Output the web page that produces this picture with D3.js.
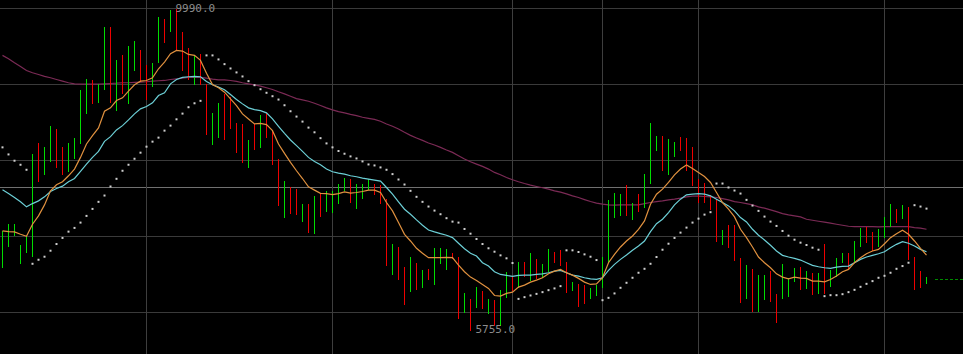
<!DOCTYPE html>
<html>
<head>
<meta charset="utf-8">
<script src="https://cdn.jsdelivr.net/npm/d3@7"></script>
<style>
  html, body { margin: 0; padding: 0; background: #000; }
  svg { display: block; }
</style>
</head>
<body>
<div class="chart"></div>
<script>
// Size of the chart
const WIDTH = 963;
const HEIGHT = 354;

// Bar highs / lows (price), one per session
const highs = [
  7073, 7165, 7165, 6888, 7007, 8089, 8235, 8182, 8459, 8419,
  8182, 8235, 8301, 8934, 9066, 9053, 9013, 9753, 9753, 9317,
  9383, 9502, 9568, 9449, 9251, 9277, 9885, 9858, 9977, 9990,
  9687, 9475, 9370, 9396, 9013, 8631, 8763, 8881, 8829, 8499,
  8485, 8274, 8485, 8604, 8631, 8393, 8023, 7733, 7654, 7627,
  7429, 7429, 7535, 7561, 7601, 7601, 7693, 7773, 7759, 7693,
  7693, 7759, 7693, 7680, 7495, 6901, 6862, 6598, 6730, 6651,
  6558, 6571, 6849, 6849, 6835, 6783, 6730, 6255, 6175, 6334,
  6281, 6175, 6162, 6294, 6532, 6466, 6664, 6664, 6783, 6703,
  6637, 6835, 6796, 6822, 6664, 6400, 6373, 6360, 6321, 6360,
  6730, 7482, 7575, 7561, 7680, 7443, 7561, 7825, 8499, 8327,
  8327, 8287, 8248, 8314, 8301, 8182, 7759, 7707, 7548, 7495,
  7086, 7152, 7152, 6717, 6624, 6571, 6492, 6492, 6545, 6241,
  6637, 6453, 6585, 6598, 6545, 6519, 6519, 6901, 6558, 6717,
  6783, 6783, 6941, 7113, 7126, 7060, 7099, 7258, 7429, 7363,
  7416, 7390, 6730, 6545, 6466
];
const lows = [
  6585, 6862, 7007, 6637, 6783, 6730, 7720, 7812, 7984, 7905,
  7812, 7852, 8023, 8221, 8617, 8749, 8763, 8934, 8763, 8657,
  8881, 8749, 9172, 9027, 8802, 8961, 9277, 9541, 9687, 9449,
  9172, 9053, 8987, 9000, 8340, 8208, 8301, 8274, 8419, 8103,
  7971, 7905, 8142, 8169, 8301, 7944, 7403, 7245, 7297, 7284,
  7192, 7047, 7033, 7258, 7324, 7311, 7429, 7601, 7443, 7363,
  7495, 7614, 7548, 7429, 6611, 6492, 6426, 6096, 6268, 6294,
  6321, 6426, 6360, 6637, 6558, 6703, 5911, 5991, 5755, 6057,
  6043, 5977, 5819, 5819, 6189, 6281, 6321, 6466, 6413, 6439,
  6453, 6532, 6651, 6611, 6255, 6281, 6070, 6109, 6175, 6215,
  6321, 6651, 7245, 7271, 7271, 7218, 7324, 7377, 7693, 8129,
  7865, 7812, 8050, 8129, 7865, 7667, 7443, 7443, 7350, 6928,
  6888, 6849, 6677, 6123, 6175, 6004, 6004, 6162, 6136, 5859,
  6175, 6202, 6400, 6294, 6307, 6228, 6241, 6241, 6334, 6466,
  6651, 6558, 6651, 6862, 6915, 6809, 6862, 6981, 7126, 7179,
  7231, 6690, 6294, 6321, 6373
];
// 1 = up bar (green), 0 = down bar (red)
const upBar = [
  1,1,1,1,1,1,0,1,1,0, 0,1,1,1,1,0,1,1,0,1,
  0,1,1,0,0,1,1,0,1,0, 0,0,1,0,0,1,1,0,0,0,
  0,1,0,1,0,0,0,1,0,0, 1,0,1,0,1,1,1,1,0,1,
  1,1,0,0,0,1,0,0,1,0, 1,0,1,1,1,0,0,1,0,1,
  0,1,0,1,1,0,1,0,1,0, 1,1,0,0,0,1,0,0,1,1,
  1,1,1,1,0,1,0,1,1,1, 0,1,1,0,0,0,0,0,0,0,
  1,0,0,0,1,0,1,1,0,0, 1,1,1,0,1,0,1,0,1,1,
  1,0,1,1,0,0,1,1,1,0, 1,0,0,0,1
];
// Parabolic SAR dots
const sar = [
  8173, 8080, 7997, 7944, 7878, 6641, 6694, 6734, 6813, 6901,
  6981, 7064, 7113, 7183, 7271, 7363, 7456, 7539, 7658, 7759,
  7865, 7944, 8023, 8103, 8182, 8248, 8301, 8393, 8459, 8542,
  8617, 8701, 8753, 8785, 9383, 9383, 9330, 9268, 9211, 9159,
  9106, 9044, 8991, 8938, 8891, 8846, 8802, 8727, 8648, 8578,
  8512, 8433, 8371, 8294, 8225, 8173, 8125, 8089, 8054, 8027,
  7988, 7948, 7935, 7909, 7878, 7821, 7750, 7684, 7601, 7522,
  7456, 7394, 7341, 7293, 7241, 7196, 7183, 7099, 7037, 6967,
  6901, 6845, 6800, 6752, 6713, 6651, 6179, 6202, 6224, 6245,
  6268, 6294, 6317, 6347, 6818, 6818, 6796, 6765, 6734, 6690,
  6162, 6193, 6251, 6325, 6391, 6457, 6523, 6575, 6641, 6730,
  6826, 6905, 6981, 7051, 7117, 7183, 7235, 7288, 7320, 7697,
  7697, 7645, 7605, 7565, 7482, 7407, 7337, 7262, 7196, 7139,
  7073, 7011, 6958, 6919, 6888, 6853, 6826, 6215, 6228, 6228,
  6241, 6268, 6298, 6338, 6377, 6413, 6457, 6483, 6523, 6575,
  6611, 6655, 7412, 7394, 7367
];
// Moving averages
const ma5 = [
  7073, 7064, 7060, 7029, 7003, 7161, 7271, 7416, 7601, 7680,
  7720, 7799, 7887, 8041, 8217, 8327, 8429, 8648, 8693, 8789,
  8825, 8912, 8996, 9044, 9053, 9089, 9207, 9295, 9405, 9449,
  9440, 9396, 9383, 9317, 9149, 9000, 8957, 8899, 8811, 8723,
  8613, 8547, 8481, 8489, 8472, 8393, 8217, 8093, 7975, 7865,
  7763, 7654, 7610, 7568, 7565, 7552, 7565, 7588, 7571, 7579,
  7592, 7610, 7610, 7579, 7447, 7337, 7183, 7029, 6941, 6845,
  6779, 6721, 6721, 6721, 6726, 6721, 6624, 6536, 6466, 6422,
  6369, 6317, 6224, 6215, 6251, 6268, 6334, 6360, 6400, 6426,
  6457, 6509, 6545, 6567, 6523, 6492, 6449, 6400, 6369, 6377,
  6457, 6655, 6765, 6862, 6941, 7007, 7095, 7205, 7425, 7557,
  7623, 7711, 7812, 7887, 7940, 7895, 7843, 7790, 7711, 7579,
  7447, 7359, 7258, 7095, 6985, 6862, 6730, 6655, 6589, 6509,
  6466, 6443, 6466, 6453, 6449, 6413, 6413, 6404, 6435, 6479,
  6536, 6567, 6655, 6721, 6773, 6809, 6831, 6905, 6985, 7037,
  7082, 7029, 6941, 6845, 6756
];
const ma10 = [
  7614, 7565, 7513, 7456, 7390, 7433, 7469, 7522, 7592, 7631,
  7663, 7720, 7763, 7856, 7953, 8041, 8120, 8252, 8314, 8402,
  8459, 8534, 8613, 8679, 8710, 8759, 8855, 8891, 9009, 9066,
  9093, 9102, 9106, 9102, 9040, 8996, 8965, 8930, 8868, 8802,
  8745, 8693, 8670, 8657, 8627, 8547, 8450, 8357, 8270, 8195,
  8120, 8041, 7988, 7944, 7887, 7852, 7835, 7821, 7799, 7786,
  7769, 7755, 7742, 7729, 7645, 7557, 7456, 7359, 7293, 7218,
  7148, 7086, 7060, 7037, 7016, 6985, 6911, 6839, 6779, 6743,
  6655, 6611, 6536, 6501, 6488, 6475, 6488, 6492, 6492, 6501,
  6509, 6523, 6545, 6554, 6523, 6492, 6479, 6457, 6443, 6435,
  6457, 6554, 6633, 6699, 6756, 6818, 6875, 6941, 7064, 7169,
  7227, 7315, 7416, 7491, 7548, 7557, 7565, 7557, 7535, 7491,
  7447, 7403, 7337, 7249, 7192, 7095, 7016, 6954, 6884, 6809,
  6752, 6730, 6713, 6690, 6655, 6620, 6602, 6589, 6581, 6598,
  6607, 6611, 6655, 6699, 6730, 6752, 6773, 6800, 6853, 6897,
  6932, 6911, 6875, 6831, 6800
];
const ma60 = [
  9383, 9339, 9287, 9238, 9185, 9155, 9132, 9106, 9089, 9066,
  9044, 9023, 9009, 9004, 9004, 9004, 9004, 9009, 9013, 9017,
  9023, 9023, 9027, 9031, 9036, 9044, 9049, 9053, 9066, 9075,
  9083, 9093, 9097, 9093, 9083, 9070, 9062, 9062, 9053, 9040,
  9023, 9009, 8996, 8978, 8957, 8934, 8904, 8877, 8846, 8815,
  8798, 8780, 8753, 8723, 8693, 8666, 8644, 8627, 8608, 8591,
  8569, 8555, 8542, 8516, 8481, 8450, 8415, 8371, 8331, 8297,
  8265, 8231, 8204, 8173, 8138, 8107, 8063, 8019, 7984, 7953,
  7922, 7887, 7843, 7812, 7777, 7746, 7720, 7697, 7676, 7658,
  7641, 7623, 7601, 7584, 7561, 7535, 7513, 7486, 7460, 7439,
  7425, 7416, 7412, 7416, 7416, 7416, 7416, 7433, 7447, 7460,
  7469, 7482, 7491, 7505, 7522, 7531, 7531, 7526, 7522, 7513,
  7499, 7482, 7460, 7447, 7433, 7416, 7390, 7373, 7350, 7328,
  7301, 7284, 7271, 7258, 7227, 7214, 7201, 7188, 7175, 7161,
  7148, 7135, 7130, 7130, 7130, 7130, 7126, 7130, 7130, 7130,
  7130, 7130, 7117, 7109, 7095
];

// Grid prices, reference line, last price, session dividers (bar index)
const gridPrices = [10000, 9000, 8000, 7000, 6000];
const refPrice = 7645;
const lastPrice = 6430;
const dividerBars = [24, 55, 85, 100, 116, 147];

// scales
const x = d3.scaleLinear().domain([0, highs.length - 1]).range([2.5, 926.5]);
const y = d3.scaleLinear().domain([6000, 10000]).range([312.5, 8.5]);

const svg = d3
  .select(".chart")
  .append("svg")
  .attr("width", WIDTH)
  .attr("height", HEIGHT);

svg.append("rect").attr("width", WIDTH).attr("height", HEIGHT).attr("fill", "#000");

// horizontal grid
svg
  .append("g")
  .selectAll("line")
  .data(gridPrices)
  .join("line")
  .attr("x1", 0)
  .attr("x2", WIDTH)
  .attr("y1", (d) => Math.floor(y(d)) + 0.5)
  .attr("y2", (d) => Math.floor(y(d)) + 0.5)
  .attr("stroke", "#3a3a3a");

// reference line
svg
  .append("line")
  .attr("x1", 0)
  .attr("x2", WIDTH)
  .attr("y1", Math.floor(y(refPrice)) + 0.5)
  .attr("y2", Math.floor(y(refPrice)) + 0.5)
  .attr("stroke", "#707070");

// session dividers
svg
  .append("g")
  .selectAll("line")
  .data(dividerBars)
  .join("line")
  .attr("x1", (d) => x(d))
  .attr("x2", (d) => x(d))
  .attr("y1", 0)
  .attr("y2", HEIGHT)
  .attr("stroke", "#3e3e3e");

const idx = d3.range(highs.length);

// slow moving average sits under the bars
const lineOf = (arr) =>
  d3
    .line()
    .x((d, i) => x(i))
    .y((d) => y(d))(arr);

svg
  .append("path")
  .attr("d", lineOf(ma60))
  .attr("fill", "none")
  .attr("stroke", "#7b2a55")
  .attr("stroke-width", 1.2);

// high-low bars
svg
  .append("g")
  .attr("shape-rendering", "crispEdges")
  .selectAll("rect")
  .data(idx)
  .join("rect")
  .attr("x", (i) => x(i) - 0.5)
  .attr("width", 1)
  .attr("y", (i) => Math.round(y(highs[i])))
  .attr("height", (i) => Math.max(1, Math.round(y(lows[i])) - Math.round(y(highs[i]))))
  .attr("fill", (i) => (upBar[i] ? "#00dd00" : "#ee0000"));

svg
  .append("path")
  .attr("d", lineOf(ma10))
  .attr("fill", "none")
  .attr("stroke", "#6ccfd6")
  .attr("stroke-width", 1.2);

svg
  .append("path")
  .attr("d", lineOf(ma5))
  .attr("fill", "none")
  .attr("stroke", "#e0913f")
  .attr("stroke-width", 1.2);

// SAR dots
svg
  .append("g")
  .selectAll("rect")
  .data(idx)
  .join("rect")
  .attr("x", (i) => x(i) - 1)
  .attr("y", (i) => y(sar[i]) - 1)
  .attr("width", 2)
  .attr("height", 2)
  .attr("fill", "#cfcfcf");

// last price dashed line
svg
  .append("line")
  .attr("x1", x(highs.length - 1) + 8.5)
  .attr("x2", WIDTH)
  .attr("y1", Math.floor(y(lastPrice)) + 0.5)
  .attr("y2", Math.floor(y(lastPrice)) + 0.5)
  .attr("stroke", "#008a00")
  .attr("stroke-dasharray", "3,2");

// max / min labels
const hiIdx = d3.maxIndex(highs);
const loIdx = d3.minIndex(lows);

svg
  .append("text")
  .attr("x", x(hiIdx) - 1)
  .attr("y", y(highs[hiIdx]))
  .attr("dominant-baseline", "middle")
  .attr("font-family", "DejaVu Sans Mono, monospace")
  .attr("font-size", 11)
  .attr("fill", "#8c8c8c")
  .text(d3.format(".1f")(highs[hiIdx]));

svg
  .append("text")
  .attr("x", x(loIdx) + 5)
  .attr("y", y(lows[loIdx]) - 1)
  .attr("dominant-baseline", "middle")
  .attr("font-family", "DejaVu Sans Mono, monospace")
  .attr("font-size", 11)
  .attr("fill", "#8c8c8c")
  .text(d3.format(".1f")(lows[loIdx]));
</script>
</body>
</html>
